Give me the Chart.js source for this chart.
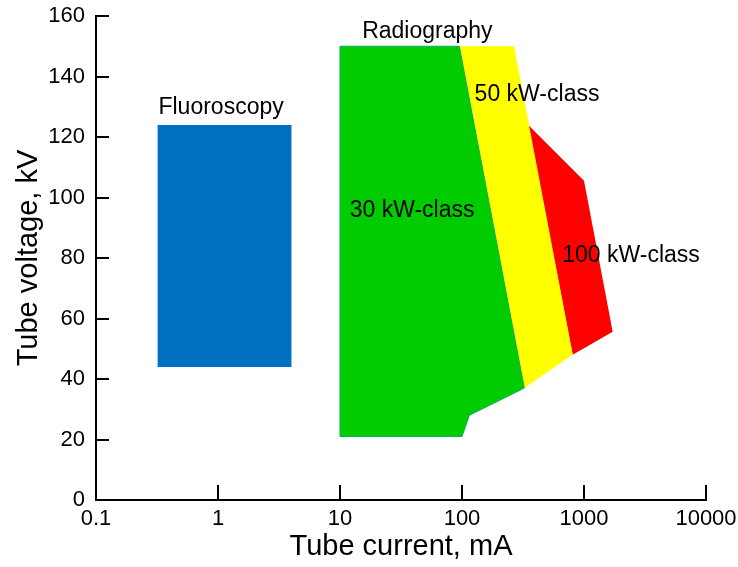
<!DOCTYPE html>
<html>
<head>
<meta charset="utf-8">
<script src="https://cdn.jsdelivr.net/npm/chart.js@4"></script>
<style>
  html, body { margin: 0; padding: 0; background: #fff; }
  #wrap { width: 738px; height: 567px; }
</style>
</head>
<body>
<div id="wrap"><canvas id="chart"></canvas></div>
<script>
// ---- data ----
const xTickValues = [0.1, 1, 10, 100, 1000, 10000];
const yMin = 0, yMax = 160, yStep = 20;

// polygons (tube current mA, tube voltage kV)
const fluoroX = [0.32, 4, 4, 0.32];
const fluoroY = [44, 44, 124, 124];
const kw30X = [10, 95, 324, 115, 100, 10];
const kw30Y = [150, 150, 37, 28, 21, 21];
const kw50X = [95, 267, 808, 324];
const kw50Y = [150, 150, 48, 37];
const kw100X = [349, 1000, 1718, 808];
const kw100Y = [124, 105.5, 55.6, 48];

// region labels
const labelTexts = ['Radiography', 'Fluoroscopy', '50 kW-class', '30 kW-class', '100 kW-class'];
const labelX = [52, 1.06, 412, 39, 2430];
const labelY = [154.7, 129.6, 133.9, 95.5, 80.7];

const FONT = '"Liberation Sans", Arial, sans-serif';

function poly(xs, ys) {
  const pts = xs.map((x, i) => ({x: x, y: ys[i]}));
  pts.push({x: xs[0], y: ys[0]});
  return pts;
}

function polyDataset(xs, ys, fillColor, lineColor, lineWidth) {
  return {
    data: poly(xs, ys),
    showLine: true,
    fill: 'shape',
    backgroundColor: fillColor,
    borderColor: lineColor,
    borderWidth: lineWidth,
    pointRadius: 0,
    tension: 0
  };
}

// inward ticks + region labels
const decorPlugin = {
  id: 'decor',
  afterDraw(chart) {
    const ctx = chart.ctx;
    const xs = chart.scales.x, ys = chart.scales.y;
    const area = chart.chartArea;
    ctx.save();
    ctx.strokeStyle = '#000';
    ctx.lineWidth = 2;
    ctx.beginPath();
    xTickValues.forEach(v => {
      const px = Math.round(xs.getPixelForValue(v));
      ctx.moveTo(px, area.bottom);
      ctx.lineTo(px, area.bottom - 15);
    });
    for (let v = yMin; v <= yMax; v += yStep) {
      const py = Math.round(ys.getPixelForValue(v));
      ctx.moveTo(area.left, py);
      ctx.lineTo(area.left + 13, py);
    }
    ctx.stroke();

    ctx.fillStyle = '#000';
    ctx.font = '23px ' + FONT;
    ctx.textAlign = 'center';
    ctx.textBaseline = 'middle';
    labelTexts.forEach((t, i) => {
      ctx.fillText(t, xs.getPixelForValue(labelX[i]), ys.getPixelForValue(labelY[i]));
    });
    ctx.restore();
  }
};

new Chart(document.getElementById('chart'), {
  type: 'scatter',
  data: {
    datasets: [
      polyDataset(fluoroX, fluoroY, '#0070c0', '#0070c0', 0),
      polyDataset(kw30X, kw30Y, '#00cc00', '#00b060', 1),
      polyDataset(kw50X, kw50Y, '#ffff00', '#ffff00', 0),
      polyDataset(kw100X, kw100Y, '#ff0000', '#ff0000', 0)
    ]
  },
  options: {
    responsive: true,
    maintainAspectRatio: false,
    animation: false,
    layout: { padding: { top: 16, right: 32, left: 0, bottom: 0 } },
    plugins: {
      legend: { display: false },
      tooltip: { enabled: false }
    },
    scales: {
      x: {
        type: 'logarithmic',
        min: 0.1,
        max: 10000,
        afterBuildTicks: s => { s.ticks = xTickValues.map(v => ({value: v})); },
        afterFit: s => { s.height = 67; s.paddingLeft = 0; s.paddingRight = 0; },
        ticks: {
          color: '#000',
          font: { family: FONT, size: 22 },
          padding: 6,
          maxRotation: 0,
          autoSkip: false,
          callback: v => String(v)
        },
        grid: { display: true, drawOnChartArea: false, drawTicks: false },
        border: { display: true, color: '#000', width: 2 },
        title: {
          display: true,
          text: 'Tube current, mA',
          color: '#000',
          font: { family: FONT, size: 29 },
          padding: { top: 0, bottom: 3 }
        }
      },
      y: {
        min: yMin,
        max: yMax,
        afterFit: s => { s.width = 96; s.paddingTop = 0; s.paddingBottom = 0; },
        ticks: {
          stepSize: yStep,
          color: '#000',
          font: { family: FONT, size: 22 },
          padding: 11
        },
        grid: { display: true, drawOnChartArea: false, drawTicks: false },
        border: { display: true, color: '#000', width: 2 },
        title: {
          display: true,
          text: 'Tube voltage, kV',
          color: '#000',
          font: { family: FONT, size: 29 },
          padding: { top: 12, bottom: 0 }
        }
      }
    }
  },
  plugins: [decorPlugin]
});
</script>
</body>
</html>
